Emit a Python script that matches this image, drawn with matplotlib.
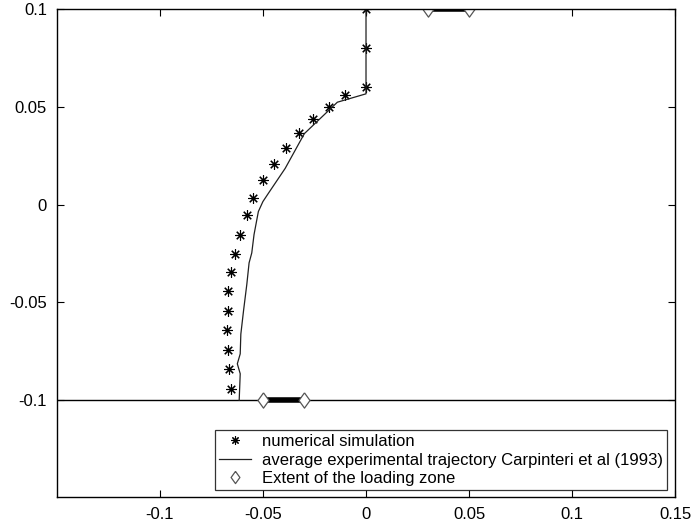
import numpy as np
import matplotlib.pyplot as plt

plt.rcParams['font.family'] = ['Liberation Sans', 'DejaVu Sans']

# numerical simulation (asterisks)
sim_x = [0.0, 0.0, 0.0, -0.0100, -0.0178, -0.0255, -0.0326, -0.0386, -0.0444,
         -0.0499, -0.0546, -0.0578, -0.0609, -0.0633, -0.0657, -0.0667,
         -0.0670, -0.0673, -0.0670, -0.0665, -0.0657]
sim_y = [0.1, 0.08, 0.06, 0.0559, 0.0500, 0.0438, 0.0367, 0.0292, 0.0207,
         0.0124, 0.0034, -0.0056, -0.0154, -0.0251, -0.0346, -0.0445,
         -0.0545, -0.0643, -0.0743, -0.0844, -0.0944]

# average experimental trajectory (Carpinteri et al 1993)
exp_x = [0.0, 0.0, 0.0, -0.0139, -0.0299, -0.0392, -0.0473, -0.0500, -0.0522,
         -0.0543, -0.0554, -0.0567, -0.0578, -0.0594, -0.0607, -0.0610,
         -0.0624, -0.0610, -0.0615]
exp_y = [0.1, 0.06, 0.0567, 0.0524, 0.0363, 0.0185, 0.0058, 0.0015, -0.0036,
         -0.0154, -0.0248, -0.0299, -0.0409, -0.0545, -0.0664, -0.0765,
         -0.0816, -0.0867, -0.1003]

# loading zones
load_bot_x = [-0.05, -0.03]
load_bot_y = [-0.1, -0.1]
load_top_x = [0.03, 0.05]
load_top_y = [0.1, 0.1]

diamond = [(0, 1), (0.72, 0), (0, -1), (-0.72, 0), (0, 1)]

fig = plt.figure(figsize=(6.93, 5.28), dpi=100)
ax = fig.add_axes([0.0818, 0.0581, 0.8927, 0.9243])

ax.axhline(-0.1, color='k', lw=1.0)
ax.plot(load_bot_x, load_bot_y, color='k', lw=4, solid_capstyle='butt')
ax.plot(load_top_x, load_top_y, color='k', lw=4, solid_capstyle='butt')

ax.plot(sim_x, sim_y, linestyle='none', marker=(8, 2, 0), markersize=7.5,
        markeredgewidth=0.8, color='k', label='numerical simulation')
ax.plot(exp_x, exp_y, color='#202020', lw=0.9,
        label='average experimental trajectory Carpinteri et al (1993)')
ax.plot(load_bot_x, load_bot_y, linestyle='none', marker=diamond, markersize=11,
        markerfacecolor='white', markeredgecolor='#555555', markeredgewidth=0.9,
        label='Extent of the loading zone')
ax.plot(load_top_x, load_top_y, linestyle='none', marker=diamond, markersize=11,
        markerfacecolor='white', markeredgecolor='#555555', markeredgewidth=0.9)

ax.set_xlim(-0.15, 0.15)
ax.set_ylim(-0.15, 0.1)
ax.set_xticks([-0.1, -0.05, 0, 0.05, 0.1, 0.15])
ax.set_xticklabels(['-0.1', '-0.05', '0', '0.05', '0.1', '0.15'])
ax.set_yticks([-0.1, -0.05, 0, 0.05, 0.1])
ax.set_yticklabels(['-0.1', '-0.05', '0', '0.05', '0.1'])
ax.tick_params(direction='in', top=True, right=True, length=5, width=0.8,
               labelsize=12, pad=7)
for s in ax.spines.values():
    s.set_linewidth(1.0)

leg = ax.legend(loc='lower left', bbox_to_anchor=(0.256, 0.015), fontsize=12,
                frameon=True, fancybox=False, edgecolor='k', borderaxespad=0,
                handlelength=1.9, labelspacing=0.2, borderpad=0.25,
                handletextpad=0.65, markerscale=0.8)
leg.get_frame().set_linewidth(0.9)

fig.savefig('out.png', dpi=100)
